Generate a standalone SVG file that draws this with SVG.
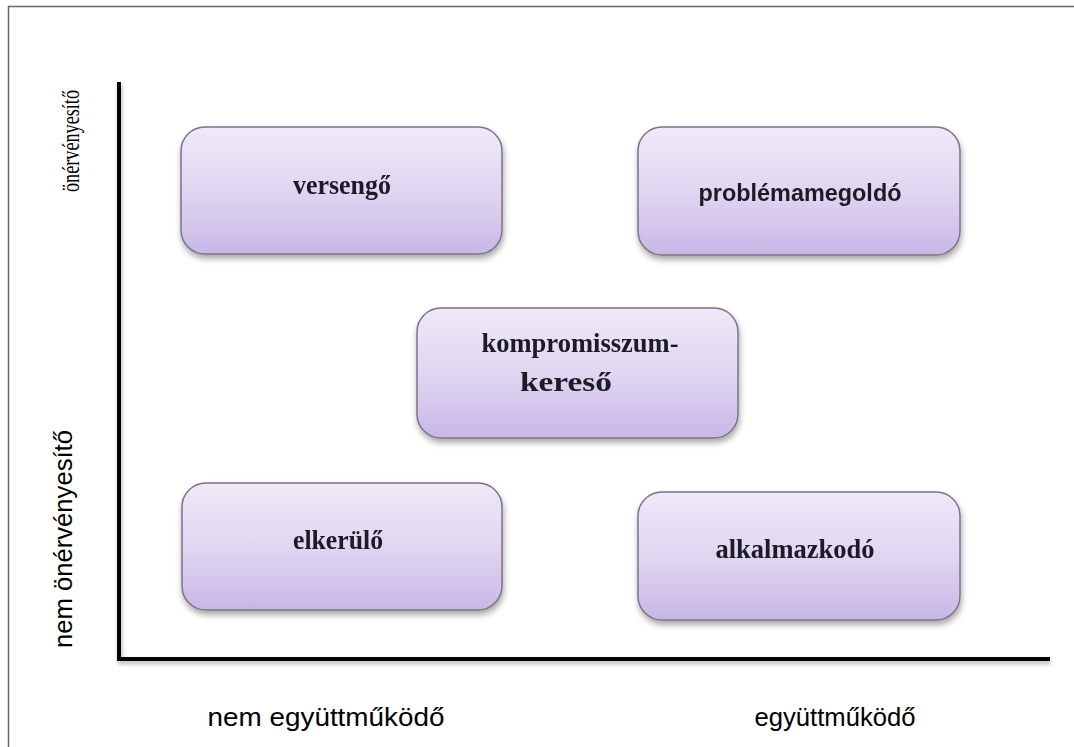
<svg xmlns="http://www.w3.org/2000/svg" width="1074" height="747" viewBox="0 0 1074 747">
<defs>
<linearGradient id="g" x1="0" y1="0" x2="0" y2="1">
<stop offset="0" stop-color="#efe9f8"/>
<stop offset="0.5" stop-color="#e0d6f1"/>
<stop offset="1" stop-color="#c8b7e6"/>
</linearGradient>
<filter id="sh" x="-10%" y="-10%" width="125%" height="135%">
<feGaussianBlur in="SourceAlpha" stdDeviation="3"/>
<feOffset dx="1" dy="4" result="b"/>
<feComponentTransfer><feFuncA type="linear" slope="0.35"/></feComponentTransfer>
<feMerge><feMergeNode/><feMergeNode in="SourceGraphic"/></feMerge>
</filter>
<filter id="ash" x="-5%" y="-5%" width="110%" height="110%">
<feGaussianBlur in="SourceAlpha" stdDeviation="2"/>
<feOffset dx="1" dy="3"/>
<feComponentTransfer><feFuncA type="linear" slope="0.3"/></feComponentTransfer>
<feMerge><feMergeNode/><feMergeNode in="SourceGraphic"/></feMerge>
</filter>
</defs>
<style>
.box{fill:url(#g);stroke:#7d7389;stroke-width:1.5}
.bt{font-family:"Liberation Serif",serif;font-weight:bold;font-size:28px;fill:#1c1a28;text-anchor:middle}
.bs{font-family:"Liberation Sans",sans-serif;font-weight:bold;font-size:24px;fill:#1c1a28;text-anchor:middle}
.ax{stroke:#000;stroke-width:4;fill:none}
.lbl{font-family:"Liberation Sans",sans-serif;font-size:25px;fill:#000;text-anchor:middle}
.lbls{font-family:"Liberation Serif",serif;font-size:26px;fill:#000;text-anchor:middle}
</style>
<rect width="1074" height="747" fill="#fff"/>
<path d="M8.5 747 V6.5 H1074" fill="none" stroke="#666" stroke-width="1.5"/>
<g id="connectors">
<path class="ax" d="M119 82 V659 H1050" filter="url(#ash)"/>
</g>
<g id="versengo" filter="url(#sh)">
<rect class="box" x="181" y="127" width="321" height="127" rx="24"/>
<text class="bt" x="342" y="194" textLength="98" lengthAdjust="spacingAndGlyphs">versengő</text>
</g>
<g id="problemamegoldo" filter="url(#sh)">
<rect class="box" x="638" y="127" width="322" height="128" rx="24"/>
<text class="bs" x="800" y="201" textLength="203" lengthAdjust="spacingAndGlyphs">problémamegoldó</text>
</g>
<g id="kompromisszumkereso" filter="url(#sh)">
<rect class="box" x="417" y="308" width="321" height="130" rx="24"/>
<text class="bt" x="580" y="352" textLength="197" lengthAdjust="spacingAndGlyphs">kompromisszum-</text>
<text class="bt" x="566" y="391" textLength="92" lengthAdjust="spacingAndGlyphs">kereső</text>
</g>
<g id="elkerulo" filter="url(#sh)">
<rect class="box" x="182" y="483" width="320" height="127" rx="24"/>
<text class="bt" x="338" y="549" textLength="90" lengthAdjust="spacingAndGlyphs">elkerülő</text>
</g>
<g id="alkalmazkodo" filter="url(#sh)">
<rect class="box" x="638" y="492" width="322" height="128" rx="24"/>
<text class="bt" x="795" y="558" textLength="159" lengthAdjust="spacingAndGlyphs">alkalmazkodó</text>
</g>
<g id="axis-labels">
<text class="lbls" transform="translate(79 141) rotate(-90)" textLength="102" lengthAdjust="spacingAndGlyphs">önérvényesítő</text>
<text class="lbl" transform="translate(72 539) rotate(-90)" textLength="218" lengthAdjust="spacingAndGlyphs">nem önérvényesítő</text>
<text class="lbl" x="326" y="726" textLength="237" lengthAdjust="spacingAndGlyphs">nem együttműködő</text>
<text class="lbl" x="835" y="726" textLength="161" lengthAdjust="spacingAndGlyphs">együttműködő</text>
</g>
</svg>
